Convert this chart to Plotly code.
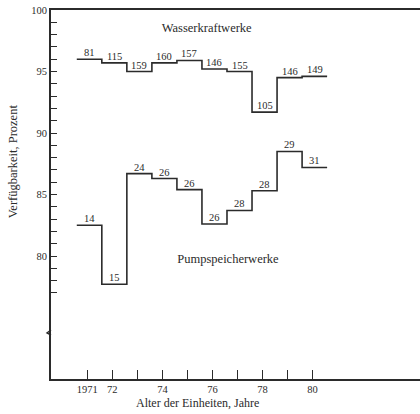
import plotly.graph_objects as go

# ---- data ----
years = [1971, 1972, 1973, 1974, 1975, 1976, 1977, 1978, 1979, 1980]
wasser_values = [96.0, 95.7, 95.0, 95.7, 95.9, 95.2, 95.0, 91.7, 94.5, 94.6]
wasser_counts = ["81", "115", "159", "160", "157", "146", "155", "105", "146", "149"]
pump_values = [82.5, 77.7, 86.7, 86.3, 85.4, 82.6, 83.7, 85.3, 88.5, 87.2]
pump_counts = ["14", "15", "24", "26", "26", "26", "28", "28", "29", "31"]
series_names = ["Wasserkraftwerke", "Pumpspeicherwerke"]
x_tick_vals = [1971, 1972, 1973, 1974, 1975, 1976, 1977, 1978, 1979, 1980]
x_tick_text = ["1971", "72", "", "74", "", "76", "", "78", "", "80"]
y_tick_vals = list(range(77, 101))
y_tick_text = [str(v) if v % 5 == 0 else "" for v in y_tick_vals]

FONT = "Liberation Serif"
INK = "#2b2b2b"
SHIFT = 0.08  # printed steps sit slightly right of the tick marks


def step_xy(xs, vals):
    edges = [x - 0.5 + SHIFT for x in xs] + [xs[-1] + 0.5 + SHIFT]
    ys = vals + [vals[-1]]
    return edges, ys


fig = go.Figure()
for vals in (wasser_values, pump_values):
    ex, ey = step_xy(years, vals)
    fig.add_trace(go.Scatter(x=ex, y=ey, mode="lines", line_shape="hv",
                             line=dict(color=INK, width=1.6),
                             hoverinfo="skip", showlegend=False))

# series names as a text trace (placed in the free space of the plot)
fig.add_trace(go.Scatter(x=[1975.77, 1976.62], y=[98.45, 79.67], mode="text",
                         text=series_names, textposition="middle center",
                         textfont=dict(family=FONT, size=12.5, color=INK),
                         hoverinfo="skip", showlegend=False))

annotations = []
for vals, labels in ((wasser_values, wasser_counts), (pump_values, pump_counts)):
    for x, v, t in zip(years, vals, labels):
        annotations.append(dict(x=x + SHIFT, y=v, text=t, showarrow=False,
                                xref="x", yref="y", yanchor="bottom", yshift=-1,
                                font=dict(family=FONT, size=10.5, color=INK)))

annotations += [
    dict(x=-0.103, y=87.7, text="Verfügbarkeit, Prozent", showarrow=False,
         xref="paper", yref="y", textangle=-90, xanchor="center", yanchor="middle",
         font=dict(family=FONT, size=12.5, color=INK)),
    dict(x=0.397, y=-0.0894, text="Alter der Einheiten, Jahre", showarrow=False,
         xref="paper", yref="paper", yanchor="bottom",
         font=dict(family=FONT, size=12, color=INK)),
]

shapes = [
    # axis break mark
    dict(type="path", xref="paper", yref="y", xsizemode="pixel", ysizemode="pixel",
         xanchor=0, yanchor=73.74, path="M 0 3 L -4 0 L 0 -2",
         line=dict(color=INK, width=1.4)),
]

fig.update_layout(
    width=420, height=414, autosize=False,
    margin=dict(l=51, r=0, t=10, b=35),
    paper_bgcolor="white", plot_bgcolor="white",
    annotations=annotations, shapes=shapes,
    xaxis=dict(range=[1969.55, 1984.29], tickvals=x_tick_vals, ticktext=x_tick_text,
               ticks="inside", ticklen=9, tickwidth=1.2, tickcolor=INK,
               showline=True, linecolor=INK, linewidth=1.6, mirror=True,
               showgrid=False, zeroline=False,
               tickfont=dict(family=FONT, size=10.5, color=INK)),
    yaxis=dict(range=[70, 100], tickvals=y_tick_vals, ticktext=y_tick_text,
               ticks="inside", ticklen=6, tickwidth=1, tickcolor=INK,
               showline=True, linecolor=INK, linewidth=1.6,
               showgrid=False, zeroline=False,
               tickfont=dict(family=FONT, size=10.5, color=INK)),
)

fig.write_html("out.html", config={"displayModeBar": False},
               post_script="document.body.style.margin='0';")
